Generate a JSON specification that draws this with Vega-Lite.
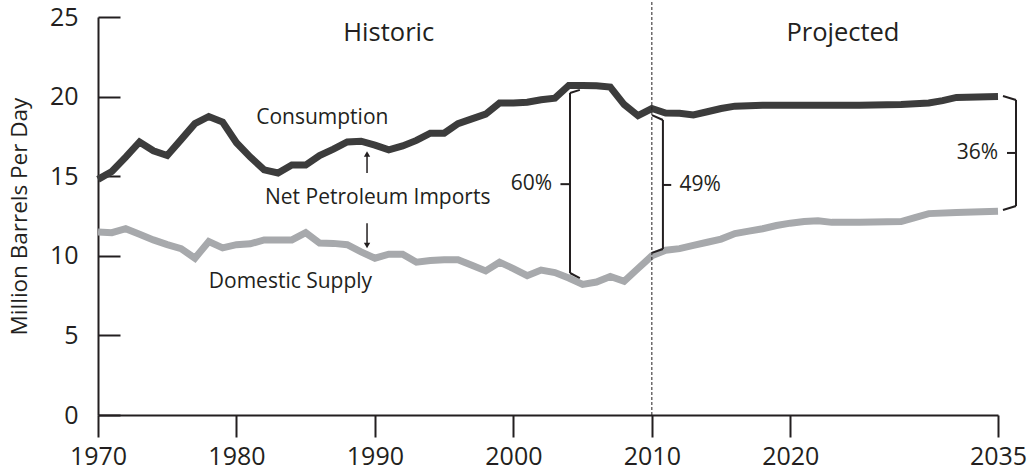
{
  "$schema": "https://vega.github.io/schema/vega-lite/v6.json",
  "width": 900,
  "height": 398,
  "autosize": "none",
  "padding": {"left": 98, "top": 17, "right": 35, "bottom": 58},
  "background": "white",
  "config": {
    "view": {"stroke": null},
    "font": "Open Sans",
    "axis": {
      "domainColor": "#231f20",
      "tickColor": "#231f20",
      "labelColor": "#231f20",
      "titleColor": "#231f20",
      "domainWidth": 2,
      "tickWidth": 2,
      "grid": false,
      "labelFont": "Open Sans",
      "titleFont": "Open Sans",
      "titleFontWeight": "normal"
    }
  },
  "datasets": {
    "lines": [
      {"year": 1970, "value": 14.8, "series": "Consumption"},
      {"year": 1971, "value": 15.3, "series": "Consumption"},
      {"year": 1972, "value": 16.2, "series": "Consumption"},
      {"year": 1973, "value": 17.15, "series": "Consumption"},
      {"year": 1974, "value": 16.6, "series": "Consumption"},
      {"year": 1975, "value": 16.3, "series": "Consumption"},
      {"year": 1976, "value": 17.3, "series": "Consumption"},
      {"year": 1977, "value": 18.3, "series": "Consumption"},
      {"year": 1978, "value": 18.75, "series": "Consumption"},
      {"year": 1979, "value": 18.4, "series": "Consumption"},
      {"year": 1980, "value": 17.1, "series": "Consumption"},
      {"year": 1981, "value": 16.2, "series": "Consumption"},
      {"year": 1982, "value": 15.4, "series": "Consumption"},
      {"year": 1983, "value": 15.2, "series": "Consumption"},
      {"year": 1984, "value": 15.7, "series": "Consumption"},
      {"year": 1985, "value": 15.7, "series": "Consumption"},
      {"year": 1986, "value": 16.3, "series": "Consumption"},
      {"year": 1987, "value": 16.7, "series": "Consumption"},
      {"year": 1988, "value": 17.15, "series": "Consumption"},
      {"year": 1989, "value": 17.2, "series": "Consumption"},
      {"year": 1990, "value": 16.95, "series": "Consumption"},
      {"year": 1991, "value": 16.65, "series": "Consumption"},
      {"year": 1992, "value": 16.9, "series": "Consumption"},
      {"year": 1993, "value": 17.25, "series": "Consumption"},
      {"year": 1994, "value": 17.7, "series": "Consumption"},
      {"year": 1995, "value": 17.7, "series": "Consumption"},
      {"year": 1996, "value": 18.3, "series": "Consumption"},
      {"year": 1997, "value": 18.6, "series": "Consumption"},
      {"year": 1998, "value": 18.9, "series": "Consumption"},
      {"year": 1999, "value": 19.6, "series": "Consumption"},
      {"year": 2000, "value": 19.6, "series": "Consumption"},
      {"year": 2001, "value": 19.65, "series": "Consumption"},
      {"year": 2002, "value": 19.8, "series": "Consumption"},
      {"year": 2003, "value": 19.9, "series": "Consumption"},
      {"year": 2004, "value": 20.7, "series": "Consumption"},
      {"year": 2005, "value": 20.7, "series": "Consumption"},
      {"year": 2006, "value": 20.68, "series": "Consumption"},
      {"year": 2007, "value": 20.6, "series": "Consumption"},
      {"year": 2008, "value": 19.5, "series": "Consumption"},
      {"year": 2009, "value": 18.8, "series": "Consumption"},
      {"year": 2010, "value": 19.25, "series": "Consumption"},
      {"year": 2011, "value": 18.97, "series": "Consumption"},
      {"year": 2012, "value": 18.95, "series": "Consumption"},
      {"year": 2013, "value": 18.85, "series": "Consumption"},
      {"year": 2014, "value": 19.05, "series": "Consumption"},
      {"year": 2015, "value": 19.25, "series": "Consumption"},
      {"year": 2016, "value": 19.4, "series": "Consumption"},
      {"year": 2018, "value": 19.45, "series": "Consumption"},
      {"year": 2020, "value": 19.45, "series": "Consumption"},
      {"year": 2025, "value": 19.45, "series": "Consumption"},
      {"year": 2028, "value": 19.5, "series": "Consumption"},
      {"year": 2030, "value": 19.6, "series": "Consumption"},
      {"year": 2031, "value": 19.75, "series": "Consumption"},
      {"year": 2032, "value": 19.95, "series": "Consumption"},
      {"year": 2035, "value": 20.0, "series": "Consumption"},
      {"year": 1970, "value": 11.5, "series": "Domestic Supply"},
      {"year": 1971, "value": 11.45, "series": "Domestic Supply"},
      {"year": 1972, "value": 11.7, "series": "Domestic Supply"},
      {"year": 1973, "value": 11.35, "series": "Domestic Supply"},
      {"year": 1974, "value": 11.0, "series": "Domestic Supply"},
      {"year": 1975, "value": 10.7, "series": "Domestic Supply"},
      {"year": 1976, "value": 10.45, "series": "Domestic Supply"},
      {"year": 1977, "value": 9.85, "series": "Domestic Supply"},
      {"year": 1978, "value": 10.9, "series": "Domestic Supply"},
      {"year": 1979, "value": 10.5, "series": "Domestic Supply"},
      {"year": 1980, "value": 10.7, "series": "Domestic Supply"},
      {"year": 1981, "value": 10.75, "series": "Domestic Supply"},
      {"year": 1982, "value": 11.0, "series": "Domestic Supply"},
      {"year": 1983, "value": 11.0, "series": "Domestic Supply"},
      {"year": 1984, "value": 11.0, "series": "Domestic Supply"},
      {"year": 1985, "value": 11.45, "series": "Domestic Supply"},
      {"year": 1986, "value": 10.8, "series": "Domestic Supply"},
      {"year": 1987, "value": 10.78, "series": "Domestic Supply"},
      {"year": 1988, "value": 10.7, "series": "Domestic Supply"},
      {"year": 1989, "value": 10.25, "series": "Domestic Supply"},
      {"year": 1990, "value": 9.85, "series": "Domestic Supply"},
      {"year": 1991, "value": 10.1, "series": "Domestic Supply"},
      {"year": 1992, "value": 10.1, "series": "Domestic Supply"},
      {"year": 1993, "value": 9.6, "series": "Domestic Supply"},
      {"year": 1994, "value": 9.7, "series": "Domestic Supply"},
      {"year": 1995, "value": 9.75, "series": "Domestic Supply"},
      {"year": 1996, "value": 9.75, "series": "Domestic Supply"},
      {"year": 1997, "value": 9.4, "series": "Domestic Supply"},
      {"year": 1998, "value": 9.05, "series": "Domestic Supply"},
      {"year": 1999, "value": 9.6, "series": "Domestic Supply"},
      {"year": 2000, "value": 9.2, "series": "Domestic Supply"},
      {"year": 2001, "value": 8.75, "series": "Domestic Supply"},
      {"year": 2002, "value": 9.1, "series": "Domestic Supply"},
      {"year": 2003, "value": 8.95, "series": "Domestic Supply"},
      {"year": 2004, "value": 8.6, "series": "Domestic Supply"},
      {"year": 2005, "value": 8.2, "series": "Domestic Supply"},
      {"year": 2006, "value": 8.35, "series": "Domestic Supply"},
      {"year": 2007, "value": 8.7, "series": "Domestic Supply"},
      {"year": 2008, "value": 8.4, "series": "Domestic Supply"},
      {"year": 2009, "value": 9.2, "series": "Domestic Supply"},
      {"year": 2010, "value": 10.0, "series": "Domestic Supply"},
      {"year": 2011, "value": 10.35, "series": "Domestic Supply"},
      {"year": 2012, "value": 10.45, "series": "Domestic Supply"},
      {"year": 2013, "value": 10.65, "series": "Domestic Supply"},
      {"year": 2014, "value": 10.85, "series": "Domestic Supply"},
      {"year": 2015, "value": 11.05, "series": "Domestic Supply"},
      {"year": 2016, "value": 11.4, "series": "Domestic Supply"},
      {"year": 2017, "value": 11.55, "series": "Domestic Supply"},
      {"year": 2018, "value": 11.7, "series": "Domestic Supply"},
      {"year": 2019, "value": 11.9, "series": "Domestic Supply"},
      {"year": 2020, "value": 12.05, "series": "Domestic Supply"},
      {"year": 2021, "value": 12.15, "series": "Domestic Supply"},
      {"year": 2022, "value": 12.2, "series": "Domestic Supply"},
      {"year": 2023, "value": 12.1, "series": "Domestic Supply"},
      {"year": 2025, "value": 12.1, "series": "Domestic Supply"},
      {"year": 2028, "value": 12.15, "series": "Domestic Supply"},
      {"year": 2029, "value": 12.4, "series": "Domestic Supply"},
      {"year": 2030, "value": 12.65, "series": "Domestic Supply"},
      {"year": 2032, "value": 12.72, "series": "Domestic Supply"},
      {"year": 2035, "value": 12.8, "series": "Domestic Supply"}
    ],
    "brackets": [
      {"x": 2004.09, "y": 20.23, "x2": 2004.09, "y2": 8.92},
      {"x": 2004.09, "y": 20.23, "x2": 2004.8, "y2": 20.42},
      {"x": 2004.09, "y": 8.92, "x2": 2004.8, "y2": 8.6},
      {"x": 2003.4, "y": 14.5, "x2": 2004.09, "y2": 14.5},
      {"x": 2010.8, "y": 18.53, "x2": 2010.8, "y2": 10.43},
      {"x": 2010.8, "y": 18.53, "x2": 2010.01, "y2": 18.84},
      {"x": 2010.8, "y": 10.43, "x2": 2010.01, "y2": 10.18},
      {"x": 2010.8, "y": 14.45, "x2": 2011.4, "y2": 14.45},
      {"x": 2036.3, "y": 19.79, "x2": 2036.3, "y2": 13.13},
      {"x": 2036.3, "y": 19.79, "x2": 2035.36, "y2": 20.04},
      {"x": 2036.3, "y": 13.13, "x2": 2035.36, "y2": 12.88},
      {"x": 2035.65, "y": 16.46, "x2": 2036.3, "y2": 16.46}
    ],
    "arrows": [
      {"year": 1989.43, "from": 15.2, "to": 16.4, "dir": "up"},
      {"year": 1989.43, "from": 12.05, "to": 10.65, "dir": "down"}
    ],
    "labels": [
      {"year": 1986.2, "value": 18.65, "label": "Consumption"},
      {"year": 1990.2, "value": 13.6, "label": "Net Petroleum Imports"},
      {"year": 1983.9, "value": 8.35, "label": "Domestic Supply"}
    ],
    "headers": [
      {"year": 1991.0, "value": 24.0, "label": "Historic"},
      {"year": 2023.8, "value": 24.0, "label": "Projected"}
    ],
    "pctRight": [
      {"year": 2002.8, "value": 14.5, "label": "60%"},
      {"year": 2035.0, "value": 16.46, "label": "36%"}
    ],
    "pctLeft": [
      {"year": 2012.0, "value": 14.45, "label": "49%"}
    ],
    "divider": [
      {"year": 2010, "from": 0, "to": 26.1}
    ]
  },
  "layer": [
    {
      "data": {"name": "lines"},
      "mark": {"type": "line", "strokeWidth": 7, "clip": false},
      "encoding": {
        "x": {
          "field": "year", "type": "quantitative",
          "scale": {"domain": [1970, 2035], "nice": false, "zero": false},
          "axis": {
            "title": null,
            "values": [1970, 1980, 1990, 2000, 2010, 2020, 2035],
            "format": "d",
            "tickSize": 22,
            "labelPadding": 7,
            "labelFontSize": 25,
            "labelFlush": false,
            "labelOverlap": false
          }
        },
        "y": {
          "field": "value", "type": "quantitative",
          "scale": {"domain": [0, 25], "nice": false},
          "axis": {
            "title": "Million Barrels Per Day",
            "values": [0, 5, 10, 15, 20, 25],
            "tickSize": -22,
            "labelPadding": 42,
            "labelFontSize": 25,
            "titleFontSize": 22.5,
            "titlePadding": 18
          }
        },
        "color": {
          "field": "series", "type": "nominal",
          "scale": {"domain": ["Consumption", "Domestic Supply"], "range": ["#3c3c3c", "#a7a9ac"]},
          "legend": null
        }
      }
    },
    {
      "data": {"name": "divider"},
      "mark": {"type": "rule", "strokeDash": [3, 2], "strokeWidth": 1, "color": "#231f20", "clip": false},
      "encoding": {
        "x": {"field": "year", "type": "quantitative"},
        "y": {"field": "from", "type": "quantitative"},
        "y2": {"field": "to"}
      }
    },
    {
      "data": {"name": "brackets"},
      "mark": {"type": "rule", "strokeWidth": 2, "color": "#231f20", "clip": false},
      "encoding": {
        "x": {"field": "x", "type": "quantitative"},
        "y": {"field": "y", "type": "quantitative"},
        "x2": {"field": "x2"},
        "y2": {"field": "y2"}
      }
    },
    {
      "data": {"name": "arrows"},
      "mark": {"type": "rule", "strokeWidth": 1.5, "color": "#231f20"},
      "encoding": {
        "x": {"field": "year", "type": "quantitative"},
        "y": {"field": "from", "type": "quantitative"},
        "y2": {"field": "to"}
      }
    },
    {
      "data": {"name": "arrows"},
      "transform": [{"filter": "datum.dir === 'up'"}],
      "mark": {"type": "point", "shape": "triangle-up", "filled": true, "size": 40, "color": "#231f20", "opacity": 1},
      "encoding": {
        "x": {"field": "year", "type": "quantitative"},
        "y": {"field": "to", "type": "quantitative"}
      }
    },
    {
      "data": {"name": "arrows"},
      "transform": [{"filter": "datum.dir === 'down'"}],
      "mark": {"type": "point", "shape": "triangle-down", "filled": true, "size": 40, "color": "#231f20", "opacity": 1},
      "encoding": {
        "x": {"field": "year", "type": "quantitative"},
        "y": {"field": "to", "type": "quantitative"}
      }
    },
    {
      "data": {"name": "labels"},
      "mark": {"type": "text", "fontSize": 21, "align": "center", "baseline": "middle", "color": "#231f20", "font": "Open Sans"},
      "encoding": {
        "x": {"field": "year", "type": "quantitative"},
        "y": {"field": "value", "type": "quantitative"},
        "text": {"field": "label"}
      }
    },
    {
      "data": {"name": "headers"},
      "mark": {"type": "text", "fontSize": 25.5, "align": "center", "baseline": "middle", "color": "#231f20", "font": "Open Sans"},
      "encoding": {
        "x": {"field": "year", "type": "quantitative"},
        "y": {"field": "value", "type": "quantitative"},
        "text": {"field": "label"}
      }
    },
    {
      "data": {"name": "pctRight"},
      "mark": {"type": "text", "fontSize": 21, "align": "right", "baseline": "middle", "color": "#231f20", "font": "Open Sans"},
      "encoding": {
        "x": {"field": "year", "type": "quantitative"},
        "y": {"field": "value", "type": "quantitative"},
        "text": {"field": "label"}
      }
    },
    {
      "data": {"name": "pctLeft"},
      "mark": {"type": "text", "fontSize": 21, "align": "left", "baseline": "middle", "color": "#231f20", "font": "Open Sans"},
      "encoding": {
        "x": {"field": "year", "type": "quantitative"},
        "y": {"field": "value", "type": "quantitative"},
        "text": {"field": "label"}
      }
    }
  ]
}
